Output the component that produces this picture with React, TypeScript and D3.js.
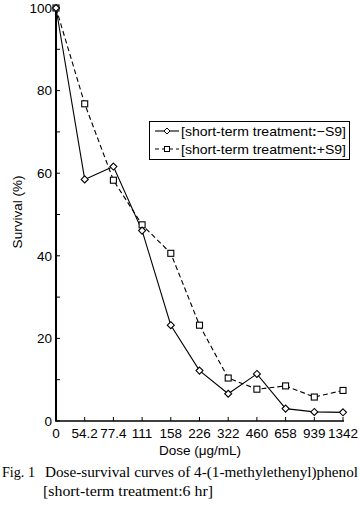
import React, { useEffect, useRef } from "react";
import * as d3 from "d3";

const doses = ["0", "54.2", "77.4", "111", "158", "226", "322", "460", "658", "939", "1342"];
const minusS9 = [100, 58.5, 61.6, 46.1, 23.2, 12.2, 6.6, 11.4, 3.0, 2.2, 2.1];
const plusS9 = [100, 76.8, 58.3, 47.5, 40.6, 23.2, 10.4, 7.7, 8.5, 5.8, 7.4];
const yMajorTicks = [0, 20, 40, 60, 80, 100];
const yMinorTicks = [10, 30, 50, 70, 90];
const legendLabels = ["[short-term treatment", "[short-term treatment"];
const legendSuffix = ["−S9]", "+S9]"];

const W = 361;
const H = 510;
const SANS = "'Liberation Sans', Arial, Helvetica, sans-serif";
const SERIF = "'Liberation Serif', 'Times New Roman', serif";

export default function App() {
  const ref = useRef<SVGSVGElement | null>(null);

  useEffect(() => {
    const svg = d3.select(ref.current);
    svg.selectAll("*").remove();

    const x = d3.scalePoint<string>().domain(doses).range([56, 343]).padding(0);
    const y = d3.scaleLinear().domain([0, 100]).range([421, 8]);

    const g = svg.append("g");

    const line = d3
      .line<number>()
      .x((_, i) => x(doses[i]) as number)
      .y((d) => y(d));

    g.append("path")
      .attr("d", line(plusS9) as string)
      .attr("fill", "none")
      .attr("stroke", "#000")
      .attr("stroke-width", 1.1)
      .attr("stroke-dasharray", "5,3");

    g.append("path")
      .attr("d", line(minusS9) as string)
      .attr("fill", "none")
      .attr("stroke", "#000")
      .attr("stroke-width", 1.1);

    const axisG = g.append("g");
    axisG
      .append("line")
      .attr("x1", 56)
      .attr("x2", 56)
      .attr("y1", y(100))
      .attr("y2", y(0))
      .attr("stroke", "#000")
      .attr("stroke-width", 2);
    axisG
      .append("line")
      .attr("x1", 55)
      .attr("x2", 344)
      .attr("y1", y(0))
      .attr("y2", y(0))
      .attr("stroke", "#000")
      .attr("stroke-width", 1.6);

    yMajorTicks.concat(yMinorTicks).forEach((t) => {
      axisG
        .append("line")
        .attr("x1", 56)
        .attr("x2", 60)
        .attr("y1", y(t))
        .attr("y2", y(t))
        .attr("stroke", "#000")
        .attr("stroke-width", 1);
    });
    yMajorTicks.forEach((t) => {
      axisG
        .append("text")
        .attr("x", 52)
        .attr("y", y(t))
        .attr("dy", "0.36em")
        .attr("text-anchor", "end")
        .attr("font-family", SANS)
        .attr("font-size", 13.5)
        .text(String(t));
    });

    doses.forEach((d, i) => {
      if (i > 0) {
        axisG
          .append("line")
          .attr("x1", x(d) as number)
          .attr("x2", x(d) as number)
          .attr("y1", y(0))
          .attr("y2", y(0) - 4)
          .attr("stroke", "#000")
          .attr("stroke-width", 1);
      }
      axisG
        .append("text")
        .attr("x", x(d) as number)
        .attr("y", 438)
        .attr("text-anchor", "middle")
        .attr("font-family", SANS)
        .attr("font-size", 13.5)
        .text(d);
    });

    const diamond = (cx: number, cy: number, r: number) =>
      `M${cx},${cy - r}L${cx + r},${cy}L${cx},${cy + r}L${cx - r},${cy}Z`;

    plusS9.forEach((v, i) => {
      const cx = x(doses[i]) as number;
      g.append("rect")
        .attr("x", cx - 3)
        .attr("y", y(v) - 3)
        .attr("width", 6)
        .attr("height", 6)
        .attr("fill", "#fff")
        .attr("stroke", "#000")
        .attr("stroke-width", 1.1);
    });
    minusS9.forEach((v, i) => {
      const cx = x(doses[i]) as number;
      g.append("path")
        .attr("d", diamond(cx, y(v), 3.5))
        .attr("fill", "#fff")
        .attr("stroke", "#000")
        .attr("stroke-width", 1.1);
    });

    g.append("text")
      .attr("transform", `translate(22,212) rotate(-90)`)
      .attr("text-anchor", "middle")
      .attr("font-family", SANS)
      .attr("font-size", 13.5)
      .text("Survival (%)");

    g.append("text")
      .attr("x", 200)
      .attr("y", 455)
      .attr("text-anchor", "middle")
      .attr("font-family", SANS)
      .attr("font-size", 13.5)
      .text("Dose (μg/mL)");

    const lg = g.append("g");
    lg.append("rect")
      .attr("x", 149.5)
      .attr("y", 121.5)
      .attr("width", 200)
      .attr("height", 38)
      .attr("fill", "#fff")
      .attr("stroke", "#000")
      .attr("stroke-width", 1);
    const rows = [131, 149];
    rows.forEach((ry, i) => {
      lg.append("line")
        .attr("x1", 155)
        .attr("x2", 179)
        .attr("y1", ry)
        .attr("y2", ry)
        .attr("stroke", "#000")
        .attr("stroke-width", 1.1)
        .attr("stroke-dasharray", i === 1 ? "4,3" : null);
      if (i === 0) {
        lg.append("path")
          .attr("d", diamond(167, ry, 3))
          .attr("fill", "#fff")
          .attr("stroke", "#000")
          .attr("stroke-width", 1);
      } else {
        lg.append("rect")
          .attr("x", 164.5)
          .attr("y", ry - 2.5)
          .attr("width", 5)
          .attr("height", 5)
          .attr("fill", "#fff")
          .attr("stroke", "#000")
          .attr("stroke-width", 1);
      }
      const t = lg
        .append("text")
        .attr("x", 181)
        .attr("y", ry)
        .attr("dy", "0.36em")
        .attr("font-family", SANS)
        .attr("font-size", 13)
        .attr("textLength", 165)
        .attr("lengthAdjust", "spacingAndGlyphs");
      t.append("tspan").text(legendLabels[i]);
      t.append("tspan").attr("font-weight", "bold").text(":");
      t.append("tspan").text(legendSuffix[i]);
    });

    g.append("text")
      .attr("x", 2)
      .attr("y", 477)
      .attr("font-family", SERIF)
      .attr("font-size", 14)
      .attr("textLength", 33)
      .attr("lengthAdjust", "spacingAndGlyphs")
      .text("Fig. 1");
    g.append("text")
      .attr("x", 45)
      .attr("y", 477)
      .attr("font-family", SERIF)
      .attr("font-size", 14)
      .attr("textLength", 313)
      .attr("lengthAdjust", "spacingAndGlyphs")
      .text("Dose-survival curves of 4-(1-methylethenyl)phenol");
    g.append("text")
      .attr("x", 43)
      .attr("y", 496)
      .attr("font-family", SERIF)
      .attr("font-size", 14)
      .attr("textLength", 170)
      .attr("lengthAdjust", "spacingAndGlyphs")
      .text("[short-term treatment:6 hr]");
  }, []);

  return (
    <svg
      ref={ref}
      width={W}
      height={H}
      style={{ display: "block", position: "absolute", left: 0, top: 0, background: "#fff" }}
    />
  );
}
